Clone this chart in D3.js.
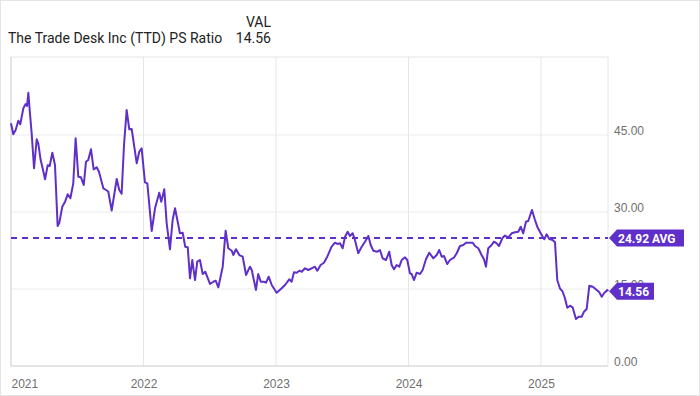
<!DOCTYPE html>
<html>
<head>
<meta charset="utf-8">
<script src="https://cdn.jsdelivr.net/npm/d3@7"></script>
<style>
  html, body { margin: 0; padding: 0; background: #fff; }
  svg { display: block; font-family: Roboto, "Noto Sans", sans-serif; }
</style>
</head>
<body>
<svg id="chart" width="700" height="396"></svg>
<script>
// Time positions as decimal years
const dates = [
  2021.000, 2021.017, 2021.035, 2021.055, 2021.070, 2021.093, 2021.111, 2021.121, 2021.131, 2021.141,
  2021.156, 2021.174, 2021.194, 2021.206, 2021.224, 2021.239, 2021.257, 2021.277, 2021.292, 2021.312,
  2021.332, 2021.352, 2021.365, 2021.387, 2021.408, 2021.428, 2021.448, 2021.470, 2021.488, 2021.508,
  2021.528, 2021.549, 2021.566, 2021.583, 2021.604, 2021.624, 2021.647, 2021.664, 2021.697, 2021.717,
  2021.734, 2021.760, 2021.798, 2021.817, 2021.835, 2021.853, 2021.873, 2021.893, 2021.911, 2021.949,
  2021.968, 2021.986, 2022.011, 2022.029, 2022.062, 2022.087, 2022.119, 2022.134, 2022.157, 2022.175,
  2022.200, 2022.220, 2022.238, 2022.263, 2022.275, 2022.296, 2022.315, 2022.334, 2022.351, 2022.368,
  2022.389, 2022.406, 2022.426, 2022.447, 2022.466, 2022.502, 2022.527, 2022.545, 2022.565, 2022.598,
  2022.620, 2022.640, 2022.666, 2022.678, 2022.698, 2022.723, 2022.749, 2022.774, 2022.804, 2022.817,
  2022.849, 2022.866, 2022.885, 2022.909, 2022.925, 2022.945, 2022.968, 2023.005, 2023.043, 2023.068,
  2023.100, 2023.118, 2023.136, 2023.156, 2023.176, 2023.194, 2023.219, 2023.244, 2023.269, 2023.294,
  2023.312, 2023.337, 2023.362, 2023.387, 2023.420, 2023.445, 2023.463, 2023.483, 2023.503, 2023.521,
  2023.541, 2023.558, 2023.579, 2023.596, 2023.621, 2023.647, 2023.672, 2023.697, 2023.715, 2023.734,
  2023.765, 2023.785, 2023.805, 2023.830, 2023.855, 2023.873, 2023.891, 2023.911, 2023.931, 2023.949,
  2023.974, 2023.991, 2024.011, 2024.024, 2024.042, 2024.062, 2024.087, 2024.107, 2024.132, 2024.157,
  2024.188, 2024.213, 2024.232, 2024.251, 2024.268, 2024.293, 2024.313, 2024.343, 2024.364, 2024.389,
  2024.414, 2024.434, 2024.464, 2024.485, 2024.502, 2024.527, 2024.552, 2024.570, 2024.585, 2024.602,
  2024.628, 2024.645, 2024.666, 2024.683, 2024.711, 2024.728, 2024.753, 2024.779, 2024.804, 2024.829,
  2024.847, 2024.866, 2024.887, 2024.904, 2024.932, 2024.955, 2024.972, 2024.992, 2025.013, 2025.025,
  2025.043, 2025.063, 2025.088, 2025.106, 2025.123, 2025.143, 2025.164, 2025.181, 2025.199, 2025.219,
  2025.239, 2025.264, 2025.285, 2025.307, 2025.325, 2025.345, 2025.365, 2025.391, 2025.421, 2025.440,
  2025.459, 2025.476, 2025.501, 2025.506
];
// PS ratio values
const psRatio = [
  47.28, 45.14, 45.98, 47.79, 47.09, 50.20, 51.04, 50.65, 53.24, 49.87,
  45.33, 38.52, 44.17, 43.39, 40.13, 38.52, 36.37, 39.10, 38.96, 41.55,
  39.16, 27.27, 27.92, 31.03, 32.01, 33.45, 32.67, 35.59, 44.36, 36.88,
  36.76, 35.26, 39.80, 40.13, 42.22, 38.32, 38.71, 37.85, 34.62, 34.29,
  34.00, 30.29, 36.43, 34.29, 33.57, 43.05, 49.87, 46.11, 46.17, 39.49,
  41.75, 42.41, 35.79, 35.59, 26.30, 30.72, 33.76, 32.01, 34.42, 27.80,
  22.74, 28.44, 30.72, 27.47, 25.85, 25.97, 23.24, 23.12, 17.09, 20.65,
  16.75, 20.32, 20.65, 17.92, 18.37, 15.98, 16.42, 16.62, 15.33, 19.35,
  26.36, 22.93, 22.46, 21.62, 22.74, 21.62, 21.29, 17.73, 19.35, 18.70,
  14.81, 17.92, 16.42, 16.42, 16.23, 17.40, 15.78, 14.28, 15.14, 15.78,
  16.89, 16.42, 18.25, 18.18, 18.57, 18.37, 19.03, 18.70, 19.03, 19.35,
  18.57, 19.68, 20.12, 21.29, 23.24, 24.02, 23.77, 23.90, 22.93, 25.19,
  26.16, 25.33, 25.85, 24.55, 21.96, 23.24, 24.22, 25.33, 23.57, 22.46,
  22.27, 22.60, 20.98, 20.65, 22.27, 19.68, 18.84, 19.68, 19.35, 20.65,
  21.18, 20.65, 18.06, 17.92, 16.75, 18.18, 17.92, 18.70, 20.79, 22.07,
  20.98, 21.62, 22.60, 21.29, 21.43, 19.87, 20.65, 21.10, 21.96, 23.38,
  23.57, 24.02, 24.02, 24.02, 23.38, 22.93, 21.62, 20.79, 19.35, 22.93,
  23.57, 24.22, 23.90, 23.38, 25.00, 25.42, 25.03, 25.85, 26.05, 26.16,
  27.14, 25.85, 28.11, 28.25, 30.39, 28.44, 27.14, 26.16, 25.19, 24.68,
  25.66, 24.74, 24.55, 24.10, 16.75, 15.14, 14.47, 13.19, 11.36, 11.75,
  11.44, 9.16, 9.60, 9.60, 10.58, 11.10, 15.64, 15.45, 14.81, 14.36,
  13.50, 14.16, 14.81, 14.56
];
const xTicks = [2021, 2022, 2023, 2024, 2025];
const yTicks = [0, 15, 30, 45];
const averageValue = 24.92;
const currentValue = 14.56;
const seriesName = "The Trade Desk Inc (TTD) PS Ratio";

const svg = d3.select("#chart");
const W = 700, H = 396;
const m = { left: 11, right: 92, top: 57, bottom: 30 };
const x0 = m.left, x1 = W - m.right, y0 = H - m.bottom, y1 = m.top;
const purple = "#5f2fc9";

const x = d3.scaleLinear().domain([2021, d3.max(dates)]).range([x0, x1]);
const y = d3.scaleLinear().domain([0, 60.2]).range([y0, y1]);

// outer frame
svg.append("rect").attr("x", 0.5).attr("y", 0.5).attr("width", W - 1).attr("height", H - 1)
  .attr("fill", "#fff").attr("stroke", "#e4e4e4");

// horizontal grid
svg.append("g").selectAll("line").data(yTicks.filter(d => d > 0)).join("line")
  .attr("x1", x0).attr("x2", x1).attr("y1", d => y(d)).attr("y2", d => y(d))
  .attr("stroke", "#ebebeb").attr("stroke-width", 1);
// vertical grid
svg.append("g").selectAll("line").data(xTicks.filter(d => d > 2021)).join("line")
  .attr("x1", d => x(d)).attr("x2", d => x(d)).attr("y1", y1).attr("y2", y0)
  .attr("stroke", "#e6e6e6").attr("stroke-width", 1);

// plot frame
svg.append("rect").attr("x", x0).attr("y", y1).attr("width", x1 - x0).attr("height", y0 - y1)
  .attr("fill", "none").attr("stroke", "#e6e6e6");
svg.append("line").attr("x1", x0).attr("x2", x0).attr("y1", y1).attr("y2", y0).attr("stroke", "#d6d6d6");
svg.append("line").attr("x1", x0).attr("x2", x1).attr("y1", y0).attr("y2", y0).attr("stroke", "#d6d6d6");

// x axis
const xAxis = svg.append("g").attr("transform", `translate(0,${y0})`)
  .call(d3.axisBottom(x).tickValues(xTicks).tickFormat(d3.format("d")).tickSize(0).tickPadding(13));
xAxis.select(".domain").remove();
xAxis.selectAll("text").attr("fill", "#707070").style("font-size", "12px")
  .attr("text-anchor", d => d === 2021 ? "start" : "middle");

// y axis
const yAxis = svg.append("g").attr("transform", `translate(${x1},0)`)
  .call(d3.axisRight(y).tickValues(yTicks).tickFormat(d3.format(".2f")).tickSize(0).tickPadding(6));
yAxis.select(".domain").remove();
yAxis.selectAll("text").attr("fill", "#707070").style("font-size", "12px")
  .attr("dy", "-0.08em");

// average dashed line
svg.append("line").attr("x1", x0).attr("x2", x1)
  .attr("y1", y(averageValue)).attr("y2", y(averageValue))
  .attr("stroke", purple).attr("stroke-width", 2).attr("stroke-dasharray", "6,5");

// main line
const data = dates.map((d, i) => ({ t: d, v: psRatio[i] }));
svg.append("path").datum(data)
  .attr("fill", "none").attr("stroke", purple).attr("stroke-width", 2)
  .attr("stroke-linejoin", "round")
  .attr("d", d3.line().x(d => x(d.t)).y(d => y(d.v)));

// tags
function tag(val, label, width) {
  const cy = y(val);
  const g = svg.append("g");
  const h = 17, tip = 8;
  const xs = x1 + 1;
  g.append("path")
    .attr("d", `M${xs},${cy} L${xs + tip},${cy - h / 2} L${xs + width},${cy - h / 2} L${xs + width},${cy + h / 2} L${xs + tip},${cy + h / 2} Z`)
    .attr("fill", purple);
  g.append("text").attr("x", xs + tip + 1).attr("y", cy + 4.5)
    .attr("fill", "#fff").style("font-size", "12px").style("font-weight", "bold")
    .text(label);
}
tag(averageValue, d3.format(".2f")(averageValue) + " AVG", 75);
tag(currentValue, d3.format(".2f")(currentValue), 45);

// header
svg.append("text").attr("x", 8).attr("y", 43).attr("fill", "#222")
  .style("font-size", "14px").text(seriesName);
svg.append("text").attr("x", 271).attr("y", 27).attr("fill", "#222")
  .attr("text-anchor", "end").style("font-size", "14px").text("VAL");
svg.append("text").attr("x", 271).attr("y", 43).attr("fill", "#222")
  .attr("text-anchor", "end").style("font-size", "14px").text(d3.format(".2f")(currentValue));
</script>
</body>
</html>
